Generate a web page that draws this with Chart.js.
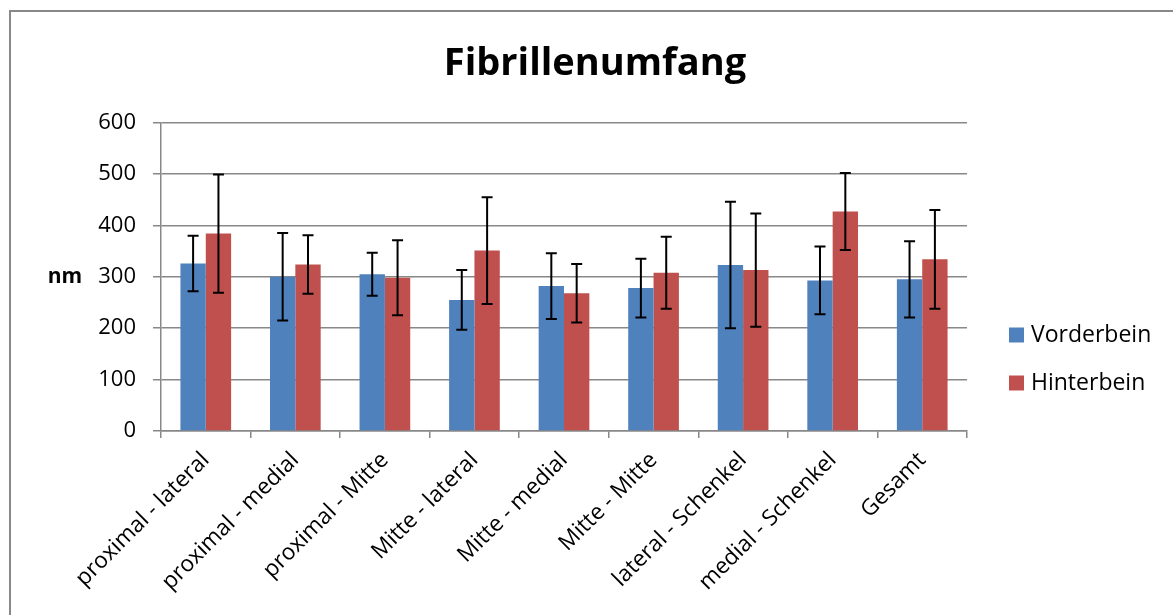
<!DOCTYPE html>
<html>
<head>
<meta charset="utf-8">
<script src="https://cdn.jsdelivr.net/npm/chart.js@4.4.0/dist/chart.umd.min.js"></script>
<style>
  html, body { margin: 0; padding: 0; background: #fff; overflow: hidden; }
  #frame { position: absolute; left: 9px; top: 10px; width: 1300px; height: 800px;
           border-left: 2px solid #888; border-top: 2px solid #888; }
  #wrap { position: absolute; left: 0; top: 0; width: 1173px; height: 615px; }
</style>
</head>
<body>
<div id="frame"></div>
<div id="wrap"><canvas id="c" width="1173" height="615"></canvas></div>
<script>
const categories = ["proximal - lateral", "proximal - medial", "proximal - Mitte", "Mitte - lateral",
  "Mitte - medial", "Mitte - Mitte", "lateral - Schenkel", "medial - Schenkel", "Gesamt"];
const vorderbein = [326, 300, 305, 255, 282, 278, 323, 293, 295];
const vorderbeinErr = [54, 85, 42, 58, 64, 57, 123, 66, 74];
const hinterbein = [384, 324, 298, 351, 268, 308, 313, 427, 334];
const hinterbeinErr = [115, 57, 73, 104, 57, 70, 110, 75, 96];
const yTicks = [0, 100, 200, 300, 400, 500, 600];

const FONT = "'Open Sans', 'Liberation Sans', sans-serif";
const errors = [vorderbeinErr, hinterbeinErr];

const extrasPlugin = {
  id: 'extras',
  afterDatasetsDraw(chart) {
    const ctx = chart.ctx;
    const y = chart.scales.y;
    ctx.save();
    ctx.strokeStyle = '#000';
    ctx.lineWidth = 2;
    chart.data.datasets.forEach((ds, di) => {
      const meta = chart.getDatasetMeta(di);
      meta.data.forEach((bar, i) => {
        const v = ds.data[i], e = errors[di][i];
        const x = bar.x;
        const yt = y.getPixelForValue(v + e);
        const yb = y.getPixelForValue(v - e);
        ctx.beginPath();
        ctx.moveTo(x, yt); ctx.lineTo(x, yb);
        ctx.moveTo(x - 5.5, yt); ctx.lineTo(x + 5.5, yt);
        ctx.moveTo(x - 5.5, yb); ctx.lineTo(x + 5.5, yb);
        ctx.stroke();
      });
    });
    ctx.restore();
  },
  afterDraw(chart) {
    const ctx = chart.ctx;
    const y = chart.scales.y;
    ctx.save();
    ctx.fillStyle = '#000';
    ctx.font = "bold 21px " + FONT;
    ctx.textAlign = 'center';
    ctx.textBaseline = 'middle';
    ctx.fillText('nm', 65, y.getPixelForValue(300));
    ctx.font = "23px " + FONT;
    ctx.textAlign = 'left';
    const lx = 1009, ly0 = 335, step = 48;
    chart.data.datasets.forEach((ds, di) => {
      const cy = ly0 + di * step;
      ctx.fillStyle = ds.backgroundColor;
      ctx.fillRect(lx, cy - 7.5, 15, 15);
      ctx.fillStyle = '#000';
      ctx.fillText(ds.label, lx + 22, cy);
    });
    ctx.restore();
  }
};

new Chart(document.getElementById('c'), {
  type: 'bar',
  data: {
    labels: categories,
    datasets: [
      { label: 'Vorderbein', data: vorderbein, backgroundColor: '#4F81BD', categoryPercentage: 0.566, barPercentage: 1.0, yAxisID: 'y' },
      { label: 'Hinterbein', data: hinterbein, backgroundColor: '#C0504D', categoryPercentage: 0.566, barPercentage: 1.0, yAxisID: 'y' }
    ]
  },
  options: {
    responsive: false,
    animation: false,
    devicePixelRatio: 1,
    layout: { padding: { left: 17, right: 0, top: 0, bottom: 0 } },
    plugins: {
      legend: { display: false },
      tooltip: { enabled: false },
      title: {
        display: true,
        text: 'Fibrillenumfang',
        color: '#000',
        font: { family: FONT, size: 38, weight: 'bold', lineHeight: 1.2 },
        padding: { top: 41, bottom: 36 }
      }
    },
    scales: {
      x: {
        grid: { display: true, drawOnChartArea: false, drawTicks: true, tickLength: 7, color: '#888', lineWidth: 1.5, offset: true },
        border: { display: true, color: '#888', width: 1.5 },
        ticks: { color: '#000', font: { family: FONT, size: 22.5 }, minRotation: 45, maxRotation: 45, autoSkip: false, padding: 9 },
        afterFit(s) { s.height = 184; }
      },
      y: {
        min: 0, max: 600,
        afterBuildTicks(s) { s.ticks = yTicks.map(v => ({ value: v })); },
        grid: { color: '#888', lineWidth: 1.5, tickLength: 8 },
        border: { display: true, color: '#888', width: 1.5 },
        ticks: { color: '#000', font: { family: FONT, size: 22 }, padding: 17 },
        afterFit(s) { s.width = 144; }
      },
      legendSpace: {
        type: 'linear',
        position: 'right',
        display: true,
        grid: { display: false, drawTicks: false },
        border: { display: false },
        ticks: { display: false },
        afterFit(s) { s.width = 206; }
      }
    }
  },
  plugins: [extrasPlugin]
});
</script>
</body>
</html>
